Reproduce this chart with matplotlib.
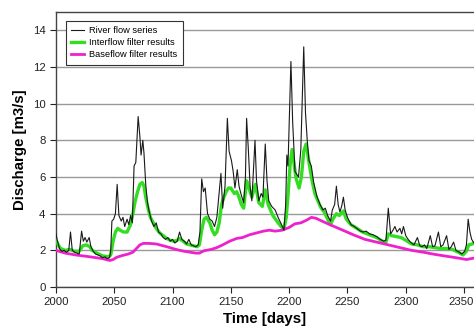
import matplotlib.pyplot as plt
import matplotlib.transforms as mtransforms

# river flow series (day, discharge)
river_days = [
    2000, 2001, 2003, 2005, 2007, 2009, 2011, 2012.5, 2014, 2016, 2018, 2020,
    2022, 2023.5, 2025, 2026.5, 2028.5, 2030, 2032, 2034, 2036, 2038, 2040,
    2042, 2044, 2046, 2047, 2048, 2049.5, 2051, 2052.5, 2054, 2056, 2057.5,
    2059, 2061, 2062.5, 2064, 2065.5, 2067, 2068.5, 2070.5, 2072, 2073,
    2074.5, 2075.5, 2077, 2078.5, 2080, 2082, 2084, 2086, 2088, 2090, 2092,
    2094, 2096, 2098, 2100, 2102, 2104, 2106, 2108, 2110, 2112, 2114, 2116,
    2118, 2120, 2122, 2123.5, 2125, 2126.5, 2128, 2130, 2132, 2134, 2136,
    2138, 2141.5, 2143, 2145, 2147, 2148.5, 2150.5, 2152, 2153.5, 2155.5,
    2157, 2159, 2161, 2162.5, 2163.5, 2165, 2166.5, 2168, 2170.7, 2172, 2174,
    2176, 2177.5, 2179.5, 2181, 2182.5, 2185, 2188, 2190.5, 2193.5, 2195.5,
    2197, 2198, 2199, 2201.5, 2203, 2205, 2208, 2210, 2212.5, 2214, 2215.5,
    2217, 2219, 2221, 2224, 2226.5, 2229, 2231, 2233, 2235.5, 2237, 2239,
    2240.5, 2242, 2243.5, 2245, 2246.5, 2248, 2250, 2253, 2256, 2258, 2261,
    2263.5, 2266, 2269, 2272, 2275, 2278, 2281, 2283, 2285, 2287, 2289,
    2290.7, 2292.5, 2295, 2296.5, 2298, 2300, 2302, 2304, 2307, 2310, 2312,
    2314, 2316, 2318, 2321, 2323, 2325, 2328, 2330, 2332, 2335, 2337, 2339,
    2341, 2343, 2346, 2348, 2350.5, 2352, 2353.5, 2355, 2356.5, 2358.5, 2360,
]
river_flow = [
    2.9, 2.6, 2.1, 1.95, 2.0, 1.9, 2.0, 3.0, 2.0, 1.9, 1.85, 1.8,
    3.05, 2.5, 2.7, 2.45, 2.7, 2.2, 1.95, 1.8, 1.75, 1.7, 1.6,
    1.65, 1.55, 1.6, 2.0, 3.6, 3.7, 4.0, 5.6, 3.9, 3.6, 3.8,
    3.3, 3.7, 3.4, 3.9, 3.5, 6.6, 6.8, 9.3, 8.2, 7.2,
    8.0, 7.3, 5.6, 4.6, 4.1, 3.6, 3.3, 3.5, 3.0, 2.9, 2.7,
    2.6, 2.7, 2.5, 2.6, 2.4, 2.5, 3.0, 2.6, 2.5, 2.35, 2.6, 2.3,
    2.25, 2.2, 2.3, 3.0, 5.9, 5.2, 5.4, 4.0, 3.7, 3.6, 3.3,
    3.8, 6.2, 4.3, 5.5, 9.2, 7.4, 6.9, 6.3, 5.4, 6.4,
    5.5, 5.0, 4.6, 6.0, 9.2, 7.5, 5.5, 4.7, 8.0, 5.8, 4.7,
    5.1, 4.9, 7.8, 5.8, 4.7, 4.4, 4.2, 3.8, 3.4, 3.1,
    4.5, 7.2, 6.6, 12.3, 9.0, 6.3, 6.0, 7.5, 13.1, 9.5, 8.0,
    6.9, 6.6, 5.7, 4.9, 4.5, 4.2, 4.3, 3.9, 3.6, 4.2, 4.5,
    5.5, 4.5, 4.1, 4.4, 4.9, 4.2, 3.8, 3.4, 3.3, 3.2, 3.05,
    3.0, 3.05, 2.9, 2.85, 2.75, 2.6, 2.5, 2.55, 4.3, 2.9, 3.1,
    3.3, 3.0, 3.2, 2.9, 3.3, 2.8, 2.6, 2.45, 2.3, 2.7, 2.25,
    2.2, 2.3, 2.1, 2.8, 2.2, 2.25, 3.0, 2.2, 2.3, 2.8, 2.05, 2.2,
    2.45, 2.0, 1.9, 1.8, 1.95, 2.3, 3.7, 3.0, 2.6, 2.4, 2.5,
]

# interflow filter results
inter_days = [
    2000, 2002, 2004, 2008, 2012, 2016, 2020, 2023, 2026, 2029, 2031, 2035,
    2040, 2045, 2047, 2049, 2051, 2053, 2055, 2058, 2061, 2064, 2066, 2068,
    2070, 2072, 2074, 2075.5, 2077, 2079, 2081, 2083.5, 2086, 2089, 2092,
    2095, 2098, 2101, 2104, 2106, 2109, 2112, 2115, 2118, 2121, 2123, 2125,
    2127, 2129, 2132, 2134, 2136, 2138, 2140, 2142, 2144, 2146, 2148, 2150,
    2153, 2155, 2157, 2159, 2161, 2163.5, 2165, 2168, 2171, 2174, 2177,
    2179.5, 2182, 2186, 2190, 2193, 2195.5, 2197.5, 2199, 2201, 2202.5,
    2204, 2206, 2208.5, 2210.5, 2212.5, 2214.5, 2216, 2218, 2220, 2222,
    2224, 2227, 2230, 2233, 2235.5, 2237.5, 2240.5, 2243, 2246.5, 2249,
    2253, 2258, 2263, 2269, 2275, 2280, 2283, 2285, 2288, 2292, 2296, 2300,
    2305, 2310, 2315, 2320, 2325, 2330, 2335, 2340, 2345, 2349, 2352, 2354,
    2357, 2360,
]
inter_flow = [
    2.55, 2.3, 2.1, 2.0, 2.05, 1.95, 1.95, 2.25, 2.3, 2.2, 2.0, 1.85,
    1.7, 1.65, 1.75, 2.5, 3.0, 3.2, 3.1, 3.0, 3.0, 3.4, 4.0, 4.7,
    5.2, 5.6, 5.7, 5.5, 4.9, 4.3, 3.8, 3.5, 3.2, 2.95, 2.8,
    2.65, 2.55, 2.5, 2.55, 2.65, 2.5, 2.35, 2.3, 2.25, 2.2, 2.3, 3.1,
    3.7, 3.8, 3.5, 3.1, 2.85, 3.0, 3.5, 4.5, 4.9, 5.2, 5.4, 5.4,
    5.1, 5.2, 4.9, 4.5, 4.3, 5.8, 5.5, 4.9, 5.6, 4.6, 4.4,
    5.3, 4.5, 3.9, 3.55, 3.3, 3.15, 3.8, 5.0, 6.8, 7.5,
    6.8, 5.9, 5.4, 6.0, 7.4, 7.8, 7.2, 6.4, 5.7, 5.1,
    4.8, 4.35, 4.1, 3.7, 3.4, 3.7, 4.0, 3.9, 4.15, 3.7,
    3.4, 3.2, 3.0, 2.85, 2.7, 2.5, 2.45, 2.9, 2.8, 2.75, 2.7, 2.55,
    2.35, 2.3, 2.2, 2.2, 2.15, 2.1, 2.1, 2.05, 1.9, 1.75, 1.95, 2.3,
    2.35, 2.45,
]

# baseflow filter results
base_days = [
    2000, 2008, 2017, 2029, 2040, 2046, 2049, 2052, 2057, 2062, 2066, 2069,
    2072, 2075, 2080, 2086, 2095, 2103, 2110, 2115, 2120, 2123, 2127, 2133,
    2138, 2143, 2149, 2155, 2160, 2166, 2172, 2178, 2183, 2188, 2194, 2200,
    2205, 2210, 2215, 2219, 2223, 2228, 2235, 2246, 2255, 2265, 2275, 2285,
    2295, 2305, 2315, 2325, 2335, 2345, 2352, 2356, 2360,
]
base_flow = [
    2.0, 1.85, 1.75, 1.65, 1.55, 1.45, 1.5, 1.62, 1.72, 1.8, 1.9, 2.1,
    2.3, 2.38, 2.38, 2.35, 2.2, 2.05, 1.95, 1.9, 1.85, 1.85, 1.98, 2.05,
    2.15, 2.3, 2.5, 2.65, 2.7, 2.85, 2.95, 3.05, 3.1, 3.05, 3.1, 3.25,
    3.45, 3.5, 3.65, 3.8, 3.75, 3.6, 3.4, 3.1, 2.85, 2.6, 2.45, 2.3,
    2.15, 2.0, 1.9, 1.78, 1.68, 1.58, 1.5, 1.55, 1.6,
]

x_ticks = [2000, 2050, 2100, 2150, 2200, 2250, 2300, 2350]
y_ticks = [0, 2, 4, 6, 8, 10, 12, 14]

plt.rcParams["font.family"] = ["Liberation Sans", "DejaVu Sans"]

fig = plt.figure(figsize=(4.74, 3.33), dpi=100)
ax = fig.add_axes([0.118, 0.138, 0.882, 0.826])

ax.plot(river_days, river_flow, color="#1a1a1a", linewidth=0.8,
        label="River flow series", zorder=4)
ax.plot(inter_days, inter_flow, color="#33dd22", linewidth=2.4,
        label="Interflow filter results", zorder=3)
ax.plot(base_days, base_flow, color="#ee22cc", linewidth=2.0,
        label="Baseflow filter results", zorder=3)

ax.set_xlim(2000, 2358.5)
ax.set_ylim(0, 15)
ax.set_xticks(x_ticks)
ax.set_yticks(y_ticks)
ax.yaxis.grid(True, color="#999999", linewidth=1.0)
ax.set_axisbelow(True)
ax.tick_params(labelsize=8.2, direction="out", length=4, width=0.8,
               colors="#222222")
ax.spines["right"].set_visible(False)
for side in ("left", "bottom", "top"):
    ax.spines[side].set_color("#444444")
    ax.spines[side].set_linewidth(1.0)

# the last x label sits at the figure edge, nudge it in a little
last_label = ax.get_xticklabels()[-1]
last_label.set_transform(last_label.get_transform()
                         + mtransforms.ScaledTranslation(-0.03, 0, fig.dpi_scale_trans))

ax.set_xlabel("Time [days]", fontsize=10.8, fontweight="bold", labelpad=3)
ax.set_ylabel("Discharge [m3/s]", fontsize=10.8, fontweight="bold", labelpad=4)

leg = ax.legend(loc="upper left", fontsize=6.7, frameon=True, fancybox=False,
                borderpad=0.55, handlelength=1.4, handletextpad=0.6,
                labelspacing=0.35, bbox_to_anchor=(0.012, 0.985))
leg.get_frame().set_edgecolor("#333333")
leg.get_frame().set_linewidth(0.8)
leg.get_frame().set_alpha(1.0)

fig.savefig("out.png", dpi=100)
